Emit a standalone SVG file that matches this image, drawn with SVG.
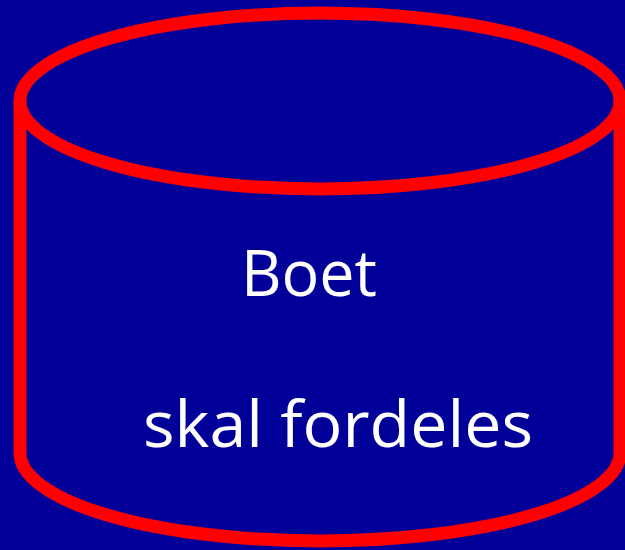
<svg xmlns="http://www.w3.org/2000/svg" width="625" height="550" viewBox="0 0 625 550">
<style>
.cyl{fill:none;stroke:#ff0000;stroke-width:13}
.lbl{fill:#ffffff;font-family:"Comic Sans MS","Open Sans","DejaVu Sans",sans-serif;font-size:64px}
</style>
<rect x="0" y="0" width="625" height="550" fill="#000099"/>
<g id="connectors"></g>
<g id="cylinder">
<path class="cyl" d="M20,101 L20,453 A300,88 0 0 0 620,453 L620,101"/>
<ellipse class="cyl" cx="320" cy="101" rx="300" ry="88"/>
<text class="lbl" x="241" y="296" textLength="136" lengthAdjust="spacingAndGlyphs">Boet</text>
<text class="lbl" x="143" y="447" textLength="390" lengthAdjust="spacingAndGlyphs">skal fordeles</text>
</g>
</svg>
